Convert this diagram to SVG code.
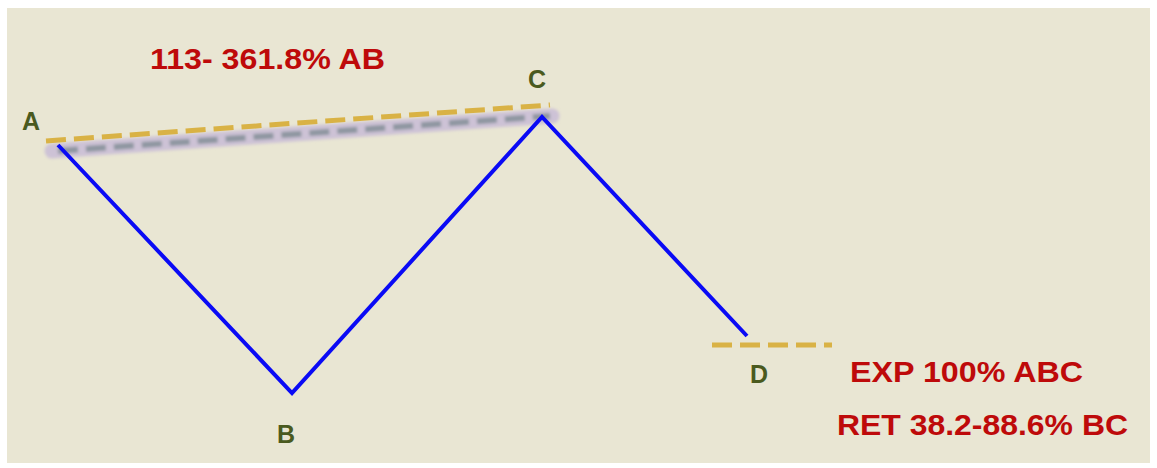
<svg xmlns="http://www.w3.org/2000/svg" width="1157" height="468" viewBox="0 0 1157 468">
  <defs>
    <style>
      .bg { fill: #E9E6D3; }
      .lbl { font-family: "Liberation Sans", Arial, sans-serif; font-size: 25px; font-weight: bold; fill: #4A5A1E; text-anchor: middle; }
      .note { font-family: "Liberation Sans", Arial, sans-serif; font-size: 30px; font-weight: bold; fill: #BE0A0A; }
      .gold { stroke: #D9B245; stroke-width: 5; stroke-dasharray: 20 8; fill: none; }
      .wave { stroke: #0A0AF5; stroke-width: 4; fill: none; stroke-linejoin: miter; }
    </style>
    <filter id="blur" x="-5%" y="-100%" width="110%" height="300%">
      <feGaussianBlur stdDeviation="1.8"/>
    </filter>
  </defs>
  <rect x="0" y="0" width="1157" height="468" fill="#FFFFFF"/>
  <rect class="bg" x="7" y="8" width="1143" height="455"/>
  <g id="connectors">
    <g id="shadow" filter="url(#blur)">
      <line x1="52" y1="151" x2="552" y2="116" stroke="#CDC2D6" stroke-width="15" stroke-linecap="round"/>
      <line x1="58" y1="151" x2="550" y2="116" stroke="#8E96A0" stroke-width="6" stroke-dasharray="20 8"/>
    </g>
    <line id="ac-level" class="gold" x1="46" y1="141" x2="550" y2="105"/>
    <line id="d-level" class="gold" x1="712" y1="345" x2="832" y2="345"/>
    <polyline id="abcd" class="wave" points="58,145 292,393 542,117 747,336"/>
  </g>
  <g id="node-A"><text class="lbl" x="31" y="130">A</text></g>
  <g id="node-B"><text class="lbl" x="286" y="443">B</text></g>
  <g id="node-C"><text class="lbl" x="537" y="88">C</text></g>
  <g id="node-D"><text class="lbl" x="759" y="383">D</text></g>
  <g id="label-ab"><text class="note" x="150" y="69" textLength="235" lengthAdjust="spacingAndGlyphs">113- 361.8% AB</text></g>
  <g id="label-exp"><text class="note" x="850" y="382" textLength="233" lengthAdjust="spacingAndGlyphs">EXP 100% ABC</text></g>
  <g id="label-ret"><text class="note" x="837" y="435" textLength="291" lengthAdjust="spacingAndGlyphs">RET 38.2-88.6% BC</text></g>
</svg>
